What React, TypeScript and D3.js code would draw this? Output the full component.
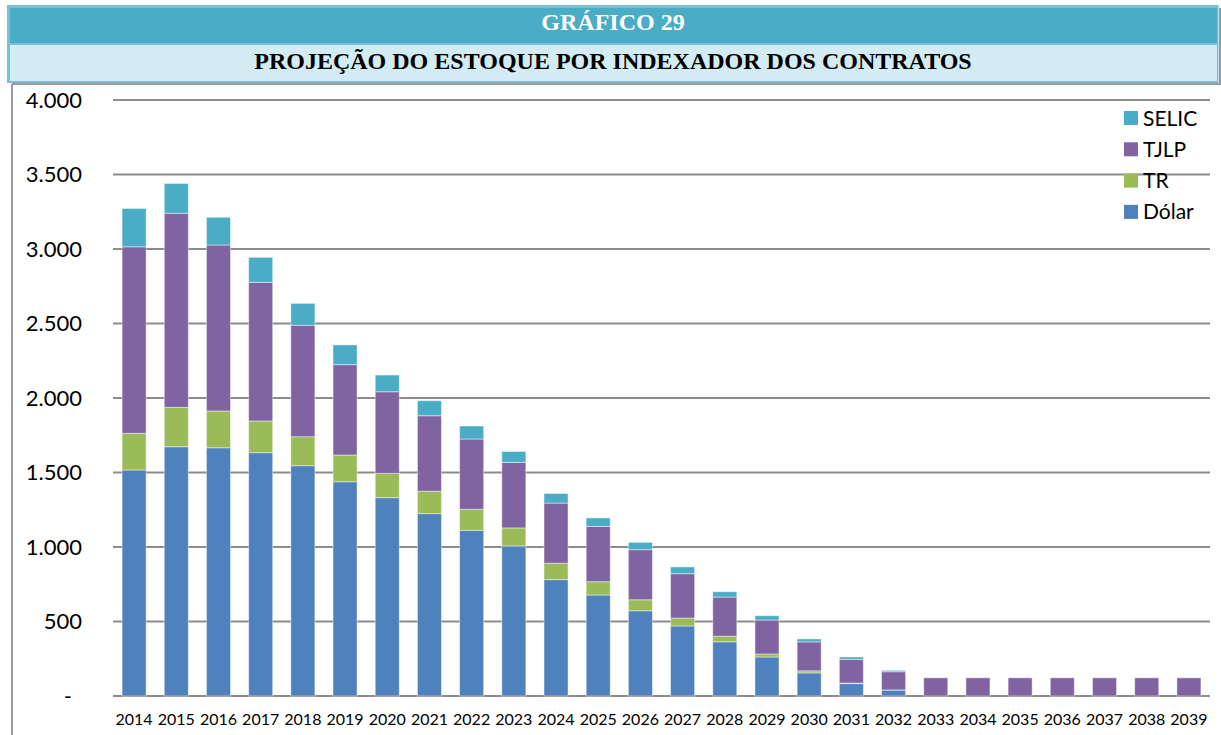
import React from 'react';
import * as d3 from 'd3';

const years = ['2014','2015','2016','2017','2018','2019','2020','2021','2022','2023','2024','2025','2026','2027','2028','2029','2030','2031','2032','2033','2034','2035','2036','2037','2038','2039'];
const dolar = [1517,1673,1666,1633,1546,1438,1331,1224,1112,1007,781,678,572,470,364,262,155,83,40,0,0,0,0,0,0,0];
const tr = [246,264,247,213,194,179,163,150,141,121,110,89,74,53,37,20,14,4,1,0,0,0,0,0,0,0];
const tjlp = [1252,1303,1114,930,748,607,548,507,472,440,404,371,336,298,263,228,194,159,122,122,122,122,122,122,122,122];
const selic = [257,200,186,168,147,132,112,101,87,73,64,57,49,45,36,29,20,16,9,0,0,0,0,0,0,0];
const yTicks = [0,500,1000,1500,2000,2500,3000,3500,4000];
const yTickLabels = ['-','500','1.000','1.500','2.000','2.500','3.000','3.500','4.000'];
const seriesKeys = ['Dólar','TR','TJLP','SELIC'];
const seriesColors: Record<string,string> = { 'Dólar':'#4f81bd', 'TR':'#9bbb59', 'TJLP':'#8064a2', 'SELIC':'#4bacc6' };
const legendOrder = ['SELIC','TJLP','TR','Dólar'];
const title1 = 'GRÁFICO 29';
const title2 = 'PROJEÇÃO DO ESTOQUE POR INDEXADOR DOS CONTRATOS';

export default function App() {
  const W = 1221, H = 735;
  const table = years.map((y, i) => ({ year: y, 'Dólar': dolar[i], 'TR': tr[i], 'TJLP': tjlp[i], 'SELIC': selic[i] }));
  const stacked = d3.stack<any>().keys(seriesKeys)(table);
  const x = d3.scaleBand<string>().domain(years).range([113, 1210]).paddingInner(0.43).paddingOuter(0.215);
  const y = d3.scaleLinear().domain([0, 4000]).range([696, 100]);
  const font = 'Lato, "Open Sans", sans-serif';
  return (
    <svg width={W} height={H} style={{ position: 'absolute', left: 0, top: 0, background: '#fff' }}>
      <rect x={0} y={0} width={W} height={H} fill="#fff" />
      {/* header */}
      <rect x={1219} y={8} width={2} height={77} fill="#9a9a9a" />
      <rect x={12} y={83} width={1209} height={2} fill="#9a9a9a" />
      <rect x={7} y={5} width={1211.5} height={78} fill="#78c1d4" />
      <rect x={10} y={8} width={1207} height={35} fill="#4bacc6" />
      <rect x={10} y={45} width={1207} height={36} fill="#d3ebf2" />
      <text x={613} y={30} textAnchor="middle" fontFamily='"Liberation Serif", "Times New Roman", serif' fontWeight="bold" fontSize={24} fill="#fff">{title1}</text>
      <text x={613} y={69} textAnchor="middle" fontFamily='"Liberation Serif", "Times New Roman", serif' fontWeight="bold" fontSize={24} fill="#000">{title2}</text>
      {/* chart frame left border */}
      <rect x={11} y={84} width={2} height={H - 84} fill="#9a9a9a" />
      {/* gridlines */}
      {yTicks.map((t) => (
        <line key={t} x1={113} x2={1210} y1={y(t)} y2={y(t)} stroke="#8c8c8c" strokeWidth={1.8} />
      ))}
      {/* bars */}
      {stacked.map((s) => (
        <g key={s.key} fill={seriesColors[s.key]}>
          {s.map((d, i) => {
            const h = y(d[0]) - y(d[1]);
            if (h <= 0) return null;
            return (
              <rect key={i} x={x(years[i])} y={y(d[1])} width={x.bandwidth()} height={h}
                stroke="#ffffff" strokeOpacity={0.45} strokeWidth={1} />
            );
          })}
        </g>
      ))}
      {/* y labels */}
      {yTicks.map((t, i) => (
        <text key={t} x={i === 0 ? 72 : 82} y={y(t)} dy="0.36em" textAnchor="end" fontFamily={font} fontSize={22} fill="#000">{yTickLabels[i]}</text>
      ))}
      {/* x labels */}
      {years.map((yr) => (
        <text key={yr} x={(x(yr) as number) + x.bandwidth() / 2} y={725} textAnchor="middle" fontFamily={font} fontSize={16} fill="#000">{yr}</text>
      ))}
      {/* legend */}
      {legendOrder.map((k, i) => {
        const cy = 118 + i * 31.3;
        return (
          <g key={k}>
            <rect x={1124} y={cy - 7} width={14} height={14} fill={seriesColors[k]} />
            <text x={1143} y={cy} dy="0.36em" fontFamily={font} fontSize={21} fill="#000">{k}</text>
          </g>
        );
      })}
    </svg>
  );
}
